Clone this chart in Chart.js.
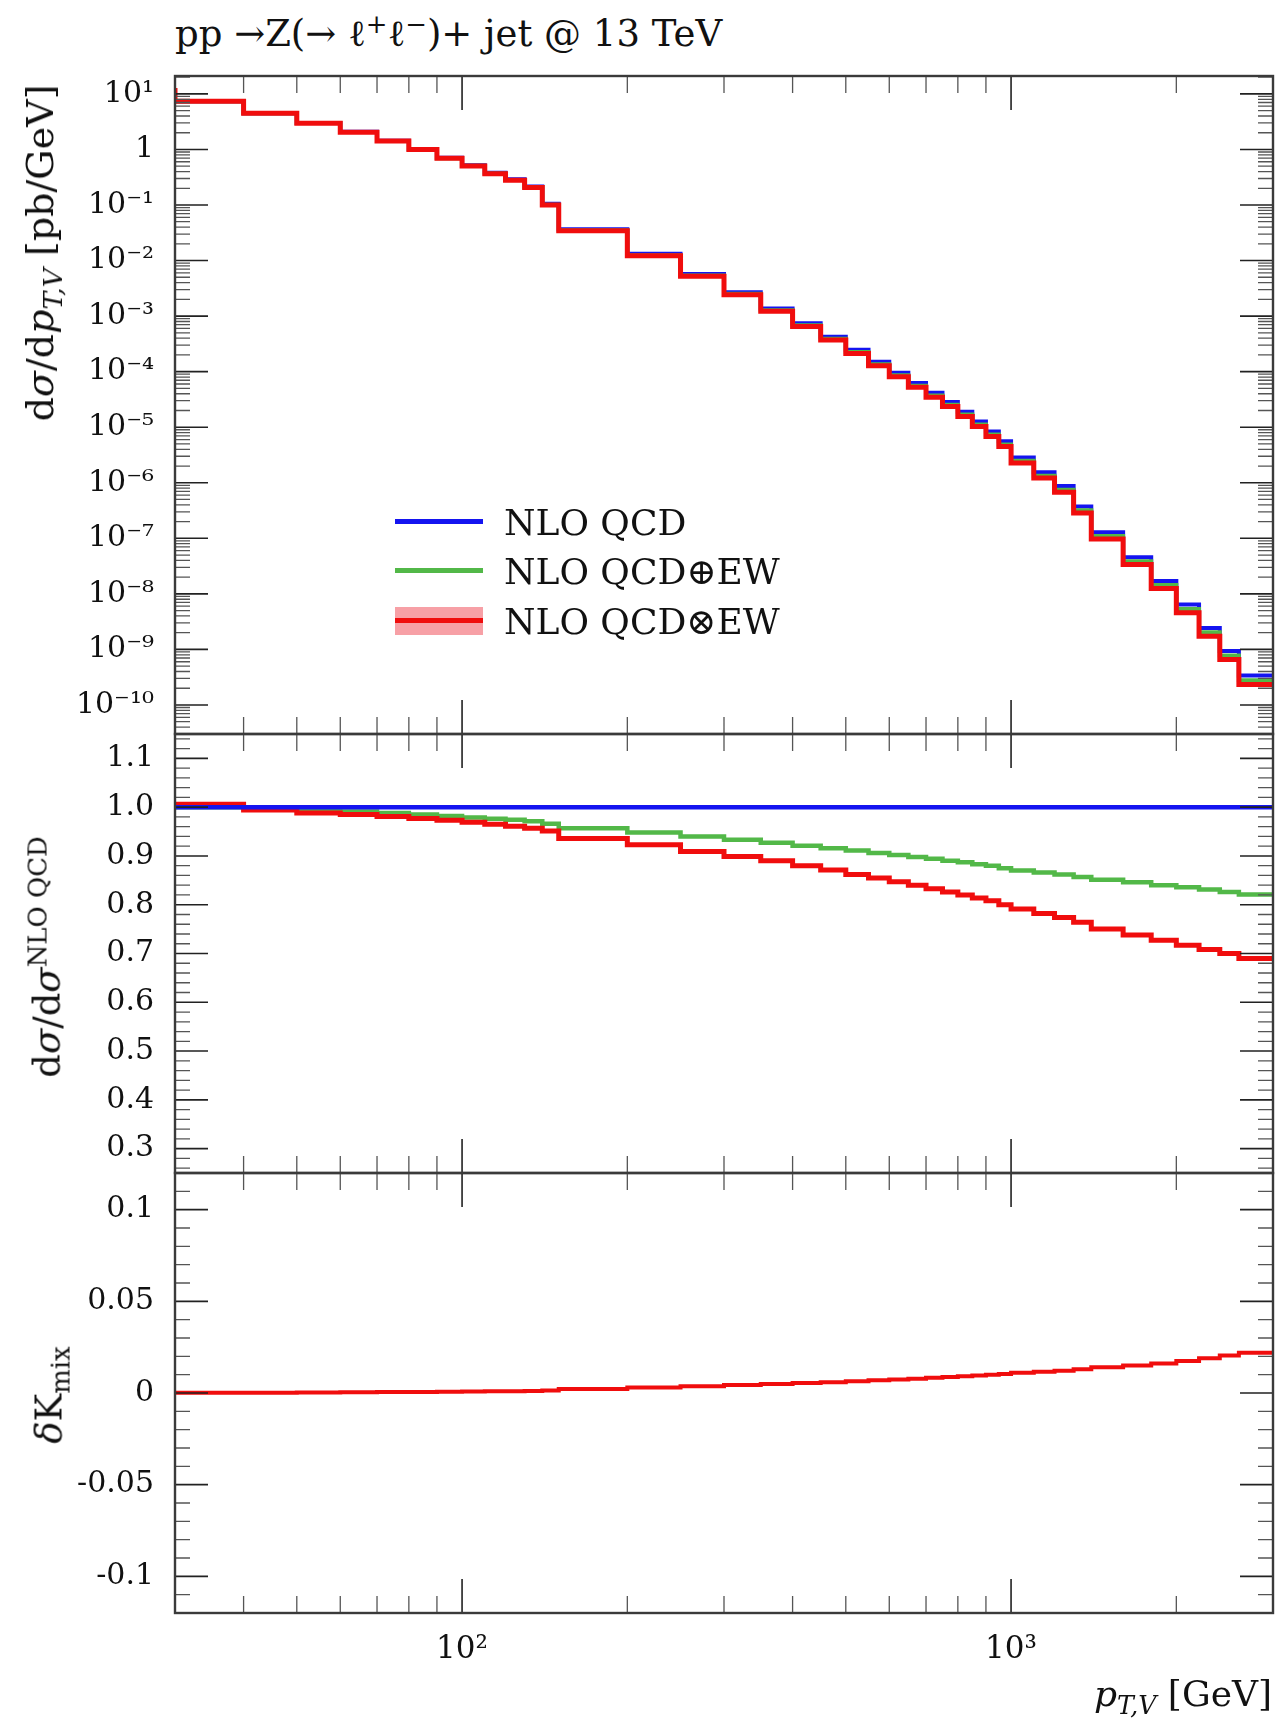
<!DOCTYPE html>
<html>
<head>
<meta charset="utf-8">
<script src="https://cdn.jsdelivr.net/npm/chart.js@4.4.1/dist/chart.umd.min.js"></script>
<style>
  body { margin: 0; background: #fff; width: 1281px; height: 1719px; position: relative; overflow: hidden;
         font-family: "DejaVu Serif", serif; color: #111; }
  canvas { position: absolute; left: 0; }
  .t { position: absolute; white-space: nowrap; line-height: 1; }
  .rot { transform: translate(-50%, -50%) rotate(-90deg); }
  sub, sup { font-size: 70%; line-height: 0; }
  .sw { position: absolute; left: 395px; width: 88px; }
</style>
</head>
<body>
<div class="t" style="left:175px;top:15px;font-size:37px">pp →Z(→ ℓ<sup>+</sup>ℓ<sup>−</sup>)+ jet @ 13 TeV</div>

<canvas id="xs" width="1281" height="744" style="top:0"></canvas>
<canvas id="ratio" width="1281" height="459" style="top:724px"></canvas>
<canvas id="dk" width="1281" height="556" style="top:1163px"></canvas>

<div class="t rot" style="left:40px;top:253px;font-size:38px">d<i>σ</i>/d<i>p</i><sub><i>T,V</i></sub> [pb/GeV]</div>
<div class="t rot" style="left:47px;top:957px;font-size:37px">d<i>σ</i>/d<i>σ</i><sup>NLO QCD</sup></div>
<div class="t rot" style="left:49px;top:1395px;font-size:37px"><i>δ</i>K<sub>mix</sub></div>
<div class="t" style="right:9px;top:1676px;font-size:36px"><i>p</i><sub><i>T,V</i></sub> [GeV]</div>

<!-- legend -->
<div class="sw" style="top:519px;height:5px;background:#1414f0"></div>
<div class="sw" style="top:568px;height:5px;background:#52b848"></div>
<div class="sw" style="top:607px;height:28px;background:#f7a0a6"></div>
<div class="sw" style="top:618px;height:5px;background:#f00d0d"></div>
<div class="t" style="left:504px;top:505px;font-size:36px">NLO QCD</div>
<div class="t" style="left:504px;top:554px;font-size:36px">NLO QCD⊕EW</div>
<div class="t" style="left:504px;top:604px;font-size:36px">NLO QCD⊗EW</div>

<script>
// bin edges in p_T,V [GeV]
const binEdges = [30, 40, 50, 60, 70, 80, 90, 100, 110, 120, 130, 140, 150, 200, 250, 300, 350, 400, 450, 500,
  550, 600, 650, 700, 750, 800, 850, 900, 950, 1000, 1100, 1200, 1300, 1400, 1600, 1800, 2000, 2200, 2400, 2600, 2800, 3000];

// NLO QCD dsigma/dpT [pb/GeV], one value per bin
const xsNLOQCD = [12.7, 7.35, 4.5, 3.0, 2.08, 1.44, 1.02, 0.71, 0.52, 0.38, 0.29, 0.215, 0.105, 0.0367, 0.0132,
  0.00572, 0.0027, 0.00137, 7.42e-4, 4.25e-4, 2.47e-4, 1.5e-4, 9.56e-5, 6.23e-5, 4.15e-5, 2.85e-5, 1.9e-5,
  1.27e-5, 8.4e-6, 5.6e-6, 2.86e-6, 1.55e-6, 8.7e-7, 3.73e-7, 1.29e-7, 4.57e-8, 1.71e-8, 6.4e-9, 2.44e-9,
  9.4e-10, 3.4e-10];

// ratios to NLO QCD
const ratioQCDplusEW = [1.0, 1.0, 0.998, 0.994, 0.991, 0.988, 0.985, 0.982, 0.979, 0.976, 0.974, 0.971, 0.966,
  0.957, 0.948, 0.94, 0.933, 0.927, 0.921, 0.916, 0.911, 0.906, 0.902, 0.898, 0.894, 0.89, 0.887, 0.883, 0.88,
  0.875, 0.87, 0.866, 0.862, 0.857, 0.851, 0.846, 0.84, 0.836, 0.831, 0.826, 0.821];
const ratioQCDtimesEW = [1.004, 1.006, 0.994, 0.988, 0.985, 0.981, 0.977, 0.973, 0.969, 0.965, 0.961, 0.957,
  0.951, 0.936, 0.923, 0.909, 0.899, 0.89, 0.88, 0.871, 0.862, 0.855, 0.847, 0.84, 0.833, 0.826, 0.82, 0.814,
  0.808, 0.8, 0.791, 0.782, 0.774, 0.764, 0.75, 0.738, 0.727, 0.717, 0.708, 0.7, 0.69];

// delta K_mix
const deltaKmix = [0.0, 0.0001, 0.0002, 0.0003, 0.0004, 0.0005, 0.0006, 0.0007, 0.0008, 0.0009, 0.001, 0.0011,
  0.0014, 0.0022, 0.003, 0.0037, 0.0043, 0.0049, 0.0054, 0.0059, 0.0064, 0.0069, 0.0074, 0.0078, 0.0083,
  0.0087, 0.0091, 0.0095, 0.0099, 0.0104, 0.011, 0.0116, 0.0122, 0.013, 0.014, 0.015, 0.0161, 0.0175, 0.019,
  0.0205, 0.022];

// ticks
const xTickValues = [100, 1000];
const xTickLabels = ['10²', '10³'];
const xMinorTicks = [40, 50, 60, 70, 80, 90, 200, 300, 400, 500, 600, 700, 800, 900, 2000];
const xsTickValues = [1e-10, 1e-9, 1e-8, 1e-7, 1e-6, 1e-5, 1e-4, 1e-3, 1e-2, 1e-1, 1, 10];
const xsTickLabels = ['10⁻¹⁰', '10⁻⁹', '10⁻⁸', '10⁻⁷', '10⁻⁶', '10⁻⁵', '10⁻⁴', '10⁻³', '10⁻²', '10⁻¹', '1', '10¹'];
const ratioTickValues = [0.3, 0.4, 0.5, 0.6, 0.7, 0.8, 0.9, 1.0, 1.1];
const ratioTickLabels = ['0.3', '0.4', '0.5', '0.6', '0.7', '0.8', '0.9', '1.0', '1.1'];
const dkTickValues = [-0.1, -0.05, 0, 0.05, 0.1];
const dkTickLabels = ['-0.1', '-0.05', '0', '0.05', '0.1'];

const FONT = '"DejaVu Serif", serif';
const BLUE = '#1414f0', GREEN = '#52b848', RED = '#f00d0d';

// histogram as step points
function steps(vals) {
  const pts = vals.map((v, i) => ({ x: binEdges[i], y: v }));
  pts.push({ x: binEdges[vals.length], y: vals[vals.length - 1] });
  return pts;
}
function line(vals, color, width, order) {
  return { data: steps(vals), borderColor: color, borderWidth: width, stepped: 'after', pointRadius: 0,
           fill: false, order: order, borderJoinStyle: 'miter', borderCapStyle: 'butt' };
}

// minor ticks on y
const logMinor = [];
for (let e = -11; e <= 1; e++) for (let k = 2; k <= 9; k++) logMinor.push(k * Math.pow(10, e));
const ratioMinor = [];
for (let v = 26; v <= 114; v += 2) if (v % 10) ratioMinor.push(v / 100);
const dkMinor = [];
for (let v = -11; v <= 11; v++) if (v % 5) dkMinor.push(v / 100);

// frame + inward ticks, drawn with the chart's own scales
function frame(yMinor) {
  return {
    id: 'frame',
    afterDraw(chart) {
      const { ctx, chartArea: a, scales: { x, y } } = chart;
      const seg = (x0, y0, x1, y1) => { ctx.moveTo(x0, y0); ctx.lineTo(x1, y1); };
      ctx.save();
      ctx.beginPath();
      ctx.lineWidth = 1.3;
      ctx.strokeStyle = '#555';
      xMinorTicks.forEach(v => {
        const p = x.getPixelForValue(v);
        seg(p, a.bottom, p, a.bottom - 17);
        seg(p, a.top, p, a.top + 17);
      });
      yMinor.forEach(v => {
        if (v < y.min || v > y.max) return;
        const p = y.getPixelForValue(v);
        seg(a.left, p, a.left + 15, p);
        seg(a.right, p, a.right - 15, p);
      });
      ctx.stroke();
      ctx.beginPath();
      ctx.lineWidth = 1.6;
      ctx.strokeStyle = '#222';
      xTickValues.forEach(v => {
        const p = x.getPixelForValue(v);
        seg(p, a.bottom, p, a.bottom - 34);
        seg(p, a.top, p, a.top + 34);
      });
      y.ticks.forEach(t => {
        const p = y.getPixelForValue(t.value);
        seg(a.left, p, a.left + 33, p);
        seg(a.right, p, a.right - 33, p);
      });
      ctx.stroke();
      ctx.lineWidth = 2.4;
      ctx.strokeStyle = '#3a3a3a';
      ctx.strokeRect(a.left, a.top, a.width, a.height);
      ctx.restore();
    }
  };
}

function noPad(s) {
  s.paddingTop = 0; s.paddingBottom = 0; s.paddingLeft = 0; s.paddingRight = 0;
}

function panel(id, datasets, yScale, tickValues, tickLabels, yMinor, pad, showX) {
  return new Chart(document.getElementById(id), {
    type: 'line',
    data: { datasets: datasets },
    options: {
      responsive: false,
      animation: false,
      events: [],
      layout: { padding: { left: 0, right: 8, top: pad[0], bottom: pad[1] } },
      scales: {
        x: {
          type: 'logarithmic', min: 30, max: 3000, display: showX,
          afterBuildTicks: s => { s.ticks = xTickValues.map(v => ({ value: v })); },
          afterFit: s => { s.height = showX ? 106 : 0; noPad(s); },
          grid: { display: false, drawTicks: false },
          border: { display: false },
          ticks: { autoSkip: false, maxRotation: 0, padding: 18, color: '#111',
                   font: { family: FONT, size: 31 }, callback: (v, i) => xTickLabels[i] }
        },
        y: Object.assign({
          afterBuildTicks: s => { s.ticks = tickValues.map(v => ({ value: v })); },
          afterFit: s => { s.width = 175; noPad(s); },
          grid: { display: false, drawTicks: false },
          border: { display: false },
          ticks: { autoSkip: false, padding: 21, color: '#111',
                   font: { family: FONT, size: 30 }, callback: (v, i) => tickLabels[i] }
        }, yScale)
      },
      plugins: { legend: { display: false }, tooltip: { enabled: false } }
    },
    plugins: [frame(yMinor)]
  });
}

const xsPlusEW = xsNLOQCD.map((v, i) => v * ratioQCDplusEW[i]);
const xsTimesEW = xsNLOQCD.map((v, i) => v * ratioQCDtimesEW[i]);
const ratioQCD = xsNLOQCD.map(v => v / v);

panel('xs', [
  line(xsTimesEW, RED, 5, 0),
  line(xsPlusEW, GREEN, 4, 1),
  line(xsNLOQCD, BLUE, 4, 2)
], { type: 'logarithmic', min: 3.0e-11, max: 21 }, xsTickValues, xsTickLabels, logMinor, [76, 10], false);

panel('ratio', [
  line(ratioQCD, BLUE, 4.5, 0),
  line(ratioQCDtimesEW, RED, 5, 1),
  line(ratioQCDplusEW, GREEN, 4.5, 2)
], { type: 'linear', min: 0.25, max: 1.15 }, ratioTickValues, ratioTickLabels, ratioMinor, [10, 10], false);

panel('dk', [
  line(deltaKmix, RED, 4, 0)
], { type: 'linear', min: -0.12, max: 0.12 }, dkTickValues, dkTickLabels, dkMinor, [10, 0], true);
</script>
</body>
</html>
